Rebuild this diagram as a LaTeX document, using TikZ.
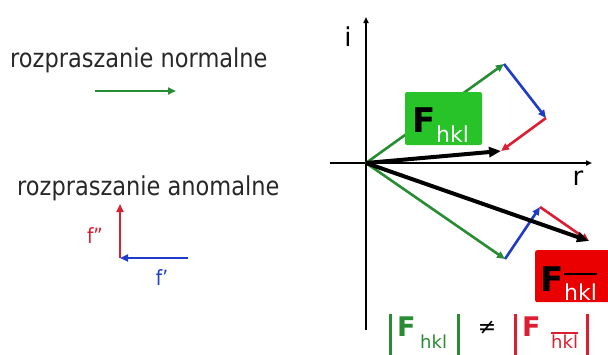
\documentclass[tikz,border=0pt]{standalone}
\usepackage{fontspec}
\setmainfont{DejaVu Sans}
\usetikzlibrary{arrows.meta}
\definecolor{vgreen}{RGB}{40,140,50}
\definecolor{boxgreen}{RGB}{40,195,40}
\definecolor{vblue}{RGB}{30,60,200}
\definecolor{vred}{RGB}{220,30,50}
\definecolor{boxred}{RGB}{235,0,0}
\definecolor{txtgray}{RGB}{40,40,40}
\newcommand\sq[1]{\scalebox{0.865}[1]{#1}}
\tikzset{
  vec/.style={line width=2.6pt,-{Triangle[length=8pt,width=7pt]}},
  bigvec/.style={line width=4pt,-{Triangle[length=12pt,width=10pt]}},
  axis/.style={line width=1.6pt,-{Triangle[length=6pt,width=5pt]}},
  lbl/.style={inner sep=0pt,font=\fontsize{26}{26}\selectfont,text=txtgray},
  bigF/.style={inner sep=0pt,font=\fontsize{34}{34}\selectfont\bfseries},
  subs/.style={inner sep=0pt,font=\fontsize{22}{22}\selectfont},
  bar/.style={line width=3pt}
}
\begin{document}
\begin{tikzpicture}[x=1pt,y=-1pt]
\useasboundingbox (0,0) rectangle (608,354);
% left legend
\node[lbl,anchor=base west] (tn) at (10,67) {\sq{rozpraszanie normalne}};
\coordinate (gs) at (95,91);
\coordinate (ge) at (176,91);
\draw[vec,vgreen] (gs) -- (ge);
\node[lbl,anchor=base west] (ta) at (17,195) {\sq{rozpraszanie anomalne}};
\coordinate (corner) at (120,258);
\coordinate (rtop) at (120,204);
\coordinate (bend) at (188,258);
\draw[vec,vred] (corner) -- (rtop);
\draw[vec,vblue] (bend) -- (corner);
\node[inner sep=0pt,font=\fontsize{21}{21}\selectfont,text=vred] (fpp) at (95,236) {\sq{f”}};
\node[inner sep=0pt,font=\fontsize{21}{21}\selectfont,text=vblue] (fp) at (162,278) {\sq{f’}};
% axes
\coordinate (O) at (366,163);
\coordinate (ybot) at (366,330);
\coordinate (ytop) at (366,17);
\coordinate (xl) at (330,163);
\coordinate (xr) at (592,163);
\draw[axis] (ybot) -- (ytop);
\draw[axis] (xl) -- (xr);
\node[lbl,text=black] (li) at (348,37) {i};
\node[lbl,text=black] (lr) at (578,178) {r};
% upper construction
\coordinate (A1) at (504,64);
\coordinate (B1) at (546,118);
\coordinate (C1) at (501,151);
\draw[vec,vgreen] (O) -- (A1);
\draw[vec,vblue] (A1) -- (B1);
\draw[vec,vred] (B1) -- (C1);
\draw[bigvec,black] (O) -- (C1);
% lower construction
\coordinate (A2) at (505,259);
\coordinate (B2) at (540,207);
\coordinate (C2) at (589,241);
\draw[vec,vgreen] (O) -- (A2);
\draw[vec,vblue] (A2) -- (B2);
\draw[vec,vred] (B2) -- (C2);
\draw[bigvec,black] (O) -- (C2);
% green box
\node[fill=boxgreen,rounded corners=2pt,minimum width=77pt,minimum height=53pt,inner sep=0pt] (gbox) at (443.5,118.5) {};
\node[bigF,anchor=base west] (gF) at (412,132) {F};
\node[subs,anchor=base west,text=white] (ghkl) at (436,142) {hkl};
% red box
\node[fill=boxred,rounded corners=2pt,minimum width=80pt,minimum height=52pt,inner sep=0pt,anchor=north west] (rbox) at (535,250) {};
\node[bigF,anchor=base west] (rF) at (540,291) {F};
\node[subs,anchor=base west,text=white] (rhkl) at (564,300) {hkl};
\draw[line width=2pt,black] (rhkl.west |- 0,274) coordinate (rol) -- (rhkl.east |- 0,274) coordinate (ror);
% bottom formula
\coordinate (b1t) at (390,314);
\coordinate (b1b) at (390,360);
\coordinate (b2t) at (458,314);
\coordinate (b2b) at (458,360);
\coordinate (b3t) at (515,314);
\coordinate (b3b) at (515,360);
\coordinate (b4t) at (587,314);
\coordinate (b4b) at (587,360);
\draw[bar,vgreen] (b1t) -- (b1b);
\draw[bar,vgreen] (b2t) -- (b2b);
\draw[bar,vred] (b3t) -- (b3b);
\draw[bar,vred] (b4t) -- (b4b);
\node[inner sep=0pt,font=\fontsize{27}{27}\selectfont\bfseries,text=vgreen,anchor=base west] (bF1) at (397,336) {F};
\node[inner sep=0pt,font=\fontsize{18}{18}\selectfont,text=vgreen,anchor=base west] (bh1) at (420,348) {hkl};
\node[inner sep=0pt,font=\fontsize{22}{22}\selectfont,text=black] (neq) at (487,328) {≠};
\node[inner sep=0pt,font=\fontsize{27}{27}\selectfont\bfseries,text=vred,anchor=base west] (bF2) at (522,336) {F};
\node[inner sep=0pt,font=\fontsize{18}{18}\selectfont,text=vred,anchor=base west] (bh2) at (551,348) {hkl};
\draw[line width=1.8pt,vred] (bh2.west |- 0,333) coordinate (bol) -- (bh2.east |- 0,333) coordinate (bor);
\end{tikzpicture}
\end{document}
